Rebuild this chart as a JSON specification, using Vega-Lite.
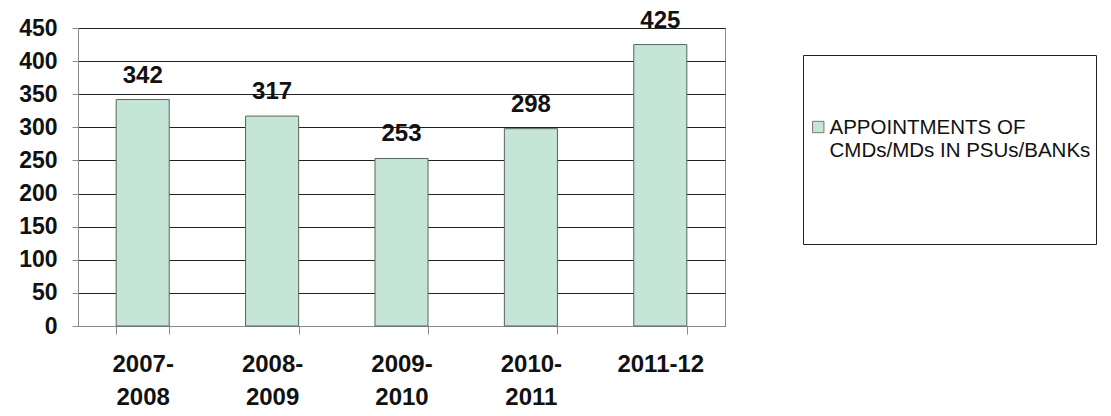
{
  "$schema": "https://vega.github.io/schema/vega-lite/v6.json",
  "width": 647,
  "height": 298,
  "autosize": "none",
  "padding": {"left": 78, "top": 28, "right": 386, "bottom": 90},
  "background": "white",
  "config": {
    "font": "Liberation Sans",
    "view": {"stroke": "#8a8a8a", "strokeWidth": 1}
  },
  "data": {
    "values": [
      {"year": "2007-2008", "value": 342, "series": "APPOINTMENTS OF CMDs/MDs IN PSUs/BANKs"},
      {"year": "2008-2009", "value": 317, "series": "APPOINTMENTS OF CMDs/MDs IN PSUs/BANKs"},
      {"year": "2009-2010", "value": 253, "series": "APPOINTMENTS OF CMDs/MDs IN PSUs/BANKs"},
      {"year": "2010-2011", "value": 298, "series": "APPOINTMENTS OF CMDs/MDs IN PSUs/BANKs"},
      {"year": "2011-12", "value": 425, "series": "APPOINTMENTS OF CMDs/MDs IN PSUs/BANKs"}
    ]
  },
  "encoding": {
    "x": {
      "field": "year",
      "type": "nominal",
      "sort": null,
      "title": null,
      "scale": {"paddingInner": 0.59, "paddingOuter": 0.295},
      "axis": {
        "labelAngle": 0,
        "labelFont": "Liberation Sans",
        "labelFontSize": 24,
        "labelFontWeight": "bold",
        "labelColor": "#111",
        "labelLineHeight": 33,
        "labelPadding": 18,
        "labelBaseline": "top",
        "labelExpr": "length(datum.label) > 7 ? [slice(datum.label, 0, 5), slice(datum.label, 5)] : datum.label",
        "tickBand": "extent",
        "tickSize": 8,
        "tickColor": "#8a8a8a",
        "domainColor": "#8a8a8a",
        "grid": false
      }
    },
    "y": {
      "field": "value",
      "type": "quantitative",
      "title": null,
      "scale": {"domain": [0, 450]},
      "axis": {
        "values": [0, 50, 100, 150, 200, 250, 300, 350, 400, 450],
        "labelFont": "Liberation Sans",
        "labelFontSize": 23,
        "labelFontWeight": "bold",
        "labelColor": "#111",
        "labelPadding": 15,
        "tickSize": 6,
        "tickColor": "#8a8a8a",
        "domainColor": "#8a8a8a",
        "gridColor": "#222",
        "gridOpacity": 1,
        "gridWidth": 1.2
      }
    }
  },
  "layer": [
    {
      "mark": {"type": "bar", "stroke": "#55675e", "strokeWidth": 1},
      "encoding": {
        "color": {
          "field": "series",
          "type": "nominal",
          "scale": {"range": ["#c5e5d6"]},
          "legend": {
            "title": " ",
            "titleOrient": "bottom",
            "titleFontSize": 1,
            "titlePadding": 44,
            "orient": "none",
            "legendX": 725,
            "legendY": 27,
            "padding": 5,
            "clipHeight": 134,
            "strokeColor": "#222",
            "fillColor": "white",
            "symbolType": "square",
            "symbolSize": 130,
            "symbolStrokeColor": "#777",
            "symbolStrokeWidth": 1,
            "labelFont": "Liberation Sans",
            "labelFontSize": 20.5,
            "labelColor": "#111",
            "labelLineHeight": 26,
            "labelLimit": 400,
            "labelOffset": 1,
            "labelExpr": "['APPOINTMENTS OF', 'CMDs/MDs IN PSUs/BANKs']",
            "encode": {
              "labels": {"update": {"dy": {"value": 1}}}
            }
          }
        }
      }
    },
    {
      "mark": {"type": "text", "baseline": "bottom", "dy": -12, "fontSize": 24, "fontWeight": "bold", "font": "Liberation Sans", "color": "#111"},
      "encoding": {"text": {"field": "value", "type": "quantitative"}}
    }
  ]
}
